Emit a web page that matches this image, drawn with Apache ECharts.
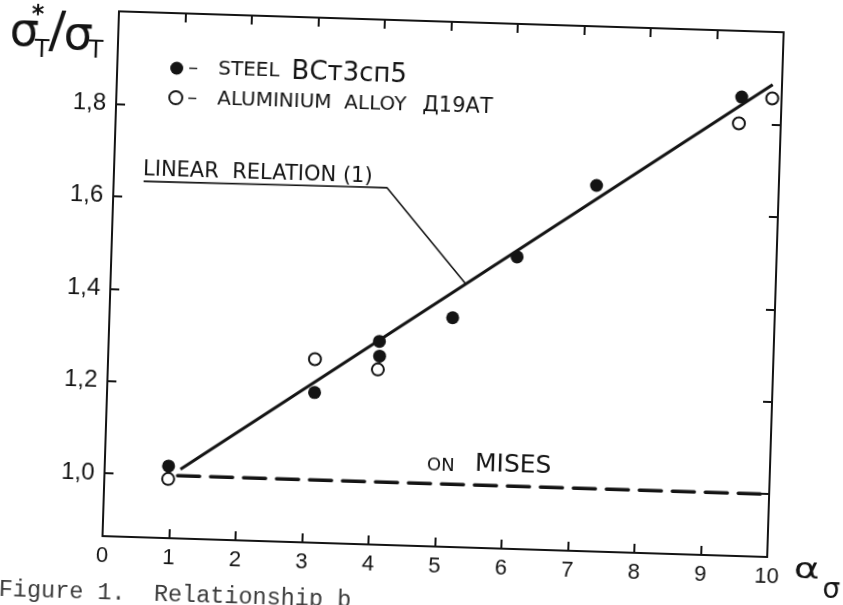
<!DOCTYPE html>
<html>
<head>
<meta charset="utf-8">
<script src="https://cdn.jsdelivr.net/npm/echarts@6/dist/echarts.min.js"></script>
<style>
  html, body { margin: 0; padding: 0; background: #fff; width: 843px; height: 605px; overflow: hidden; }
  /* the scanned sheet sits slightly askew */
  #chart { position: absolute; left: -40px; top: -40px; width: 923px; height: 685px;
           transform: rotate(1.8deg); transform-origin: 50% 50%; }
</style>
</head>
<body>
<div id="chart"></div>
<script>
// x axis: strain-state parameter alpha
const xTicks = [0, 1, 2, 3, 4, 5, 6, 7, 8, 9, 10];
const xTickLabels = ['0', '1', '2', '3', '4', '5', '6', '7', '8', '9', '10'];
// y axis: yield stress ratio
const yTicks = [1.0, 1.2, 1.4, 1.6, 1.8];
const yTickLabels = ['1,0', '1,2', '1,4', '1,6', '1,8'];

// steel ВСт3сп5 (filled markers)
const steelX = [0.96, 3.12, 4.07, 4.08, 5.16, 6.10, 7.26, 9.40];
const steelY = [1.020, 1.189, 1.304, 1.272, 1.360, 1.496, 1.656, 1.857];
// aluminium alloy Д19АТ (open markers)
const alloyX = [0.96, 3.11, 4.06, 9.37, 9.86];
const alloyY = [0.992, 1.261, 1.243, 1.800, 1.856];

// linear relation (1), drawn between its end points
const linearX = [1.14, 9.86];
const linearY = [1.014, 1.886];
// von Mises criterion
const misesX = [1.10, 10.0];
const misesY = [1.0, 1.0];
// leader from the caption to the line
const leaderX = [0.45, 4.11, 5.34];
const leaderY = [1.634, 1.637, 1.434];

const ink = '#141414';
const digits = "'Liberation Sans', Arial, sans-serif";
const sans = "'DejaVu Sans', sans-serif";

const pairs = (xs, ys) => xs.map((x, i) => [x, ys[i]]);
const yLabel = v => {
  const i = yTicks.findIndex(t => Math.abs(t - v) < 1e-6);
  return i < 0 ? '' : yTickLabels[i];
};
const xLabel = v => {
  const i = xTicks.findIndex(t => Math.abs(t - v) < 1e-6);
  return i < 0 ? '' : xTickLabels[i];
};

const frameLine = { show: true, onZero: false, lineStyle: { color: ink, width: 2 } };
const tick = { show: true, inside: true, length: 9, lineStyle: { color: ink, width: 2 } };

const txt = (text, x, y, font, align, extra, el) => Object.assign({
  type: 'text', x: x, y: y, silent: true,
  style: Object.assign({ text: text, font: font, fill: ink,
    align: align || 'center', verticalAlign: 'middle',
    textAlign: align || 'center', textVerticalAlign: 'middle' }, extra || {})
}, el || {});

const chart = echarts.init(document.getElementById('chart'), null, { renderer: 'canvas' });
chart.setOption({
  animation: false,
  backgroundColor: '#fff',
  grid: { left: 150, top: 61, width: 665, height: 525 },
  xAxis: [
    { type: 'value', position: 'bottom', min: 0, max: 10, interval: 1,
      axisLine: frameLine, axisTick: tick, splitLine: { show: false },
      axisLabel: { margin: 9, color: ink, fontSize: 22, fontFamily: digits, formatter: xLabel } },
    { type: 'value', position: 'top', min: 0, max: 10, interval: 1,
      axisLine: frameLine, axisTick: tick, splitLine: { show: false },
      axisLabel: { show: false } }
  ],
  yAxis: [
    { type: 'value', position: 'left', min: 0.864, max: 2.0,
      axisLine: frameLine, splitLine: { show: false },
      axisTick: Object.assign({ customValues: yTicks }, tick),
      axisLabel: { customValues: yTicks, margin: 10, color: ink, fontSize: 24, fontFamily: digits, formatter: yLabel } },
    { type: 'value', position: 'right', min: 0.864, max: 2.0,
      axisLine: frameLine, splitLine: { show: false },
      axisTick: Object.assign({ customValues: yTicks }, tick),
      axisLabel: { show: false } }
  ],
  legend: {
    left: 202, top: 103, orient: 'vertical', padding: 0, itemGap: 6,
    itemWidth: 13, itemHeight: 13, selectedMode: false,
    data: [
      { name: 'steel', icon: 'circle', itemStyle: { color: ink, borderWidth: 0 } },
      { name: 'alloy', icon: 'circle', itemStyle: { color: '#fff', borderColor: ink, borderWidth: 2 } }
    ],
    formatter: name => name === 'steel'
      ? '{d|–}{s|STEEL}{g|}{b|ВСт3сп5}'
      : '{d|–}{s|ALUMINIUM  ALLOY}{h|}{c|Д19АТ}',
    textStyle: {
      color: ink,
      rich: {
        d: { fontFamily: sans, fontSize: 20, color: ink, width: 30, lineHeight: 26 },
        s: { fontFamily: sans, fontSize: 20, color: ink, lineHeight: 26 },
        g: { width: 12, lineHeight: 26 },
        h: { width: 16, lineHeight: 26 },
        b: { fontFamily: sans, fontSize: 26, color: ink, lineHeight: 26 },
        c: { fontFamily: sans, fontSize: 21, color: ink, lineHeight: 26 }
      }
    }
  },
  series: [
    { name: 'linear', type: 'line', data: pairs(linearX, linearY), showSymbol: false, symbol: 'none',
      lineStyle: { color: ink, width: 3 }, z: 2, silent: true },
    { name: 'mises', type: 'line', data: pairs(misesX, misesY), showSymbol: false, symbol: 'none',
      lineStyle: { color: ink, width: 3.5, type: [22, 11], cap: 'round' }, z: 2, silent: true },
    { name: 'leader', type: 'line', data: pairs(leaderX, leaderY), showSymbol: false, symbol: 'none',
      lineStyle: { color: ink, width: 1.6 }, z: 2, silent: true },
    { name: 'steel', type: 'scatter', data: pairs(steelX, steelY), symbol: 'circle', symbolSize: 13,
      itemStyle: { color: ink, opacity: 1 }, z: 4 },
    { name: 'alloy', type: 'scatter', data: pairs(alloyX, alloyY), symbol: 'circle', symbolSize: 12,
      itemStyle: { color: '#fff', borderColor: ink, borderWidth: 2, opacity: 1 }, z: 5 }
  ],
  graphic: [
    // y-axis title  σ*т / σт
    txt('σ', 56, 86, '46px ' + sans),
    txt('*', 69, 68, 'bold 24px ' + sans),
    txt('T', 74, 103, '24px ' + sans),
    txt('/', 89, 85, '50px ' + sans),
    txt('σ', 110, 88, '46px ' + sans),
    txt('T', 128, 102, '24px ' + sans),
    // x-axis title  α σ
    txt('α', 855, 598, '29px ' + sans, 'center', null, { scaleX: 1.35 }),
    txt('σ', 880, 618, '28px ' + sans),
    // annotations
    txt('LINEAR  RELATION (1)', 179, 219, '21px ' + sans, 'left'),
    txt('ON', 472, 505, '18px ' + sans, 'left'),
    txt('MISES', 520, 502, '25px ' + sans, 'left'),
    // caption
    txt('Figure 1.  Relationship b', 48, 643, '23.5px "Liberation Mono", monospace', 'left', { fill: '#3a3a3a' })
  ]
});
</script>
</body>
</html>
